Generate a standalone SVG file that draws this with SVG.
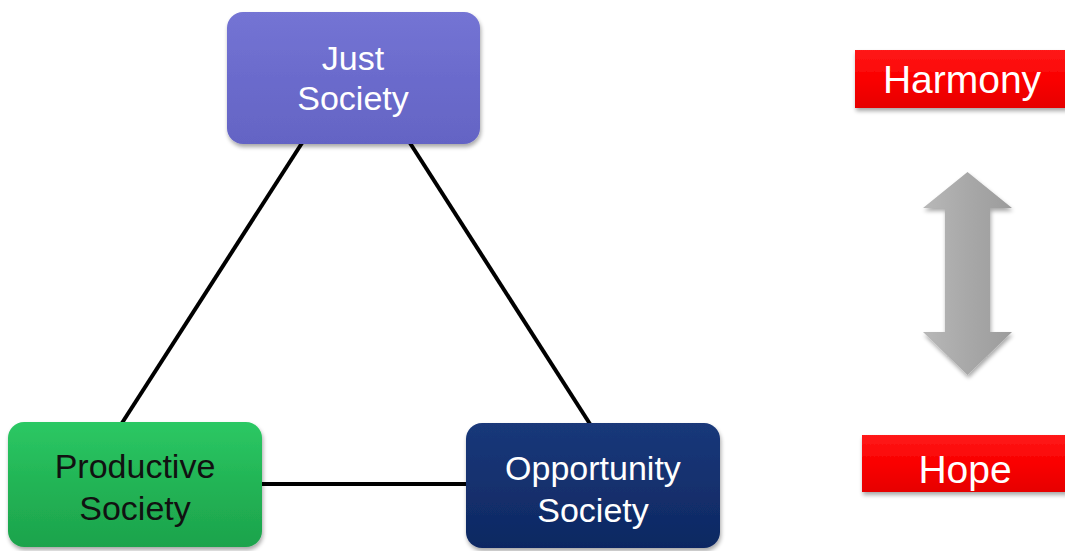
<svg xmlns="http://www.w3.org/2000/svg" width="1065" height="551" viewBox="0 0 1065 551">
<defs>
<filter id="sh" x="-10%" y="-10%" width="130%" height="130%">
<feGaussianBlur in="SourceAlpha" stdDeviation="2"/>
<feOffset dx="1" dy="3" result="b"/>
<feComponentTransfer><feFuncA type="linear" slope="0.35"/></feComponentTransfer>
<feMerge><feMergeNode/><feMergeNode in="SourceGraphic"/></feMerge>
</filter>
<linearGradient id="gPurple" x1="0" y1="0" x2="0" y2="1">
<stop offset="0" stop-color="#7474d4"/><stop offset="0.5" stop-color="#6b6bcc"/><stop offset="1" stop-color="#6464c4"/>
</linearGradient>
<linearGradient id="gGreen" x1="0" y1="0" x2="0" y2="1">
<stop offset="0" stop-color="#2cc864"/><stop offset="0.5" stop-color="#22b455"/><stop offset="1" stop-color="#1da34c"/>
</linearGradient>
<linearGradient id="gNavy" x1="0" y1="0" x2="0" y2="1">
<stop offset="0" stop-color="#1a387a"/><stop offset="0.5" stop-color="#13306e"/><stop offset="1" stop-color="#0f2862"/>
</linearGradient>
<linearGradient id="gRed" x1="0" y1="0" x2="0" y2="1">
<stop offset="0" stop-color="#ff1a1a"/><stop offset="0.5" stop-color="#fa0000"/><stop offset="1" stop-color="#e60000"/>
</linearGradient>
<linearGradient id="gGray" x1="0" y1="0" x2="1" y2="0">
<stop offset="0" stop-color="#b8b8b8"/><stop offset="0.5" stop-color="#a8a8a8"/><stop offset="1" stop-color="#9c9c9c"/>
</linearGradient>
<style>
.t{font-family:"Liberation Sans",Arial,sans-serif;font-size:34px;text-anchor:middle}
.w{fill:#ffffff}
.k{fill:#111111}
.big{font-size:39px}
.ln{stroke:#000;stroke-width:4;fill:none}
</style>
</defs>
<g id="connectors">
<line class="ln" x1="302" y1="143" x2="122" y2="423"/>
<line class="ln" x1="410" y1="143" x2="590" y2="424"/>
<line class="ln" x1="262" y1="484" x2="467" y2="484"/>
</g>
<g id="just-society">
<rect x="227" y="12" width="253" height="132" rx="16" fill="url(#gPurple)" filter="url(#sh)"/>
<text class="t w" x="353" y="70">Just</text>
<text class="t w" x="353" y="110">Society</text>
</g>
<g id="productive-society">
<rect x="8" y="422" width="254" height="125" rx="16" fill="url(#gGreen)" filter="url(#sh)"/>
<text class="t k" x="135" y="478">Productive</text>
<text class="t k" x="135" y="520">Society</text>
</g>
<g id="opportunity-society">
<rect x="466" y="423" width="254" height="125" rx="16" fill="url(#gNavy)" filter="url(#sh)"/>
<text class="t w" x="593" y="480">Opportunity</text>
<text class="t w" x="593" y="522">Society</text>
</g>
<g id="harmony">
<rect x="855" y="50" width="215" height="58" fill="url(#gRed)" filter="url(#sh)"/>
<text class="t w big" x="962" y="93">Harmony</text>
</g>
<g id="hope">
<rect x="862" y="435" width="208" height="57" fill="url(#gRed)" filter="url(#sh)"/>
<text class="t w big" x="965" y="483">Hope</text>
</g>
<g id="double-arrow">
<path d="M967.5,172 L1012,208 L990,208 L990,332 L1012,332 L967.5,375 L923,332 L945,332 L945,208 L923,208 Z" fill="url(#gGray)" filter="url(#sh)"/>
</g>
</svg>
